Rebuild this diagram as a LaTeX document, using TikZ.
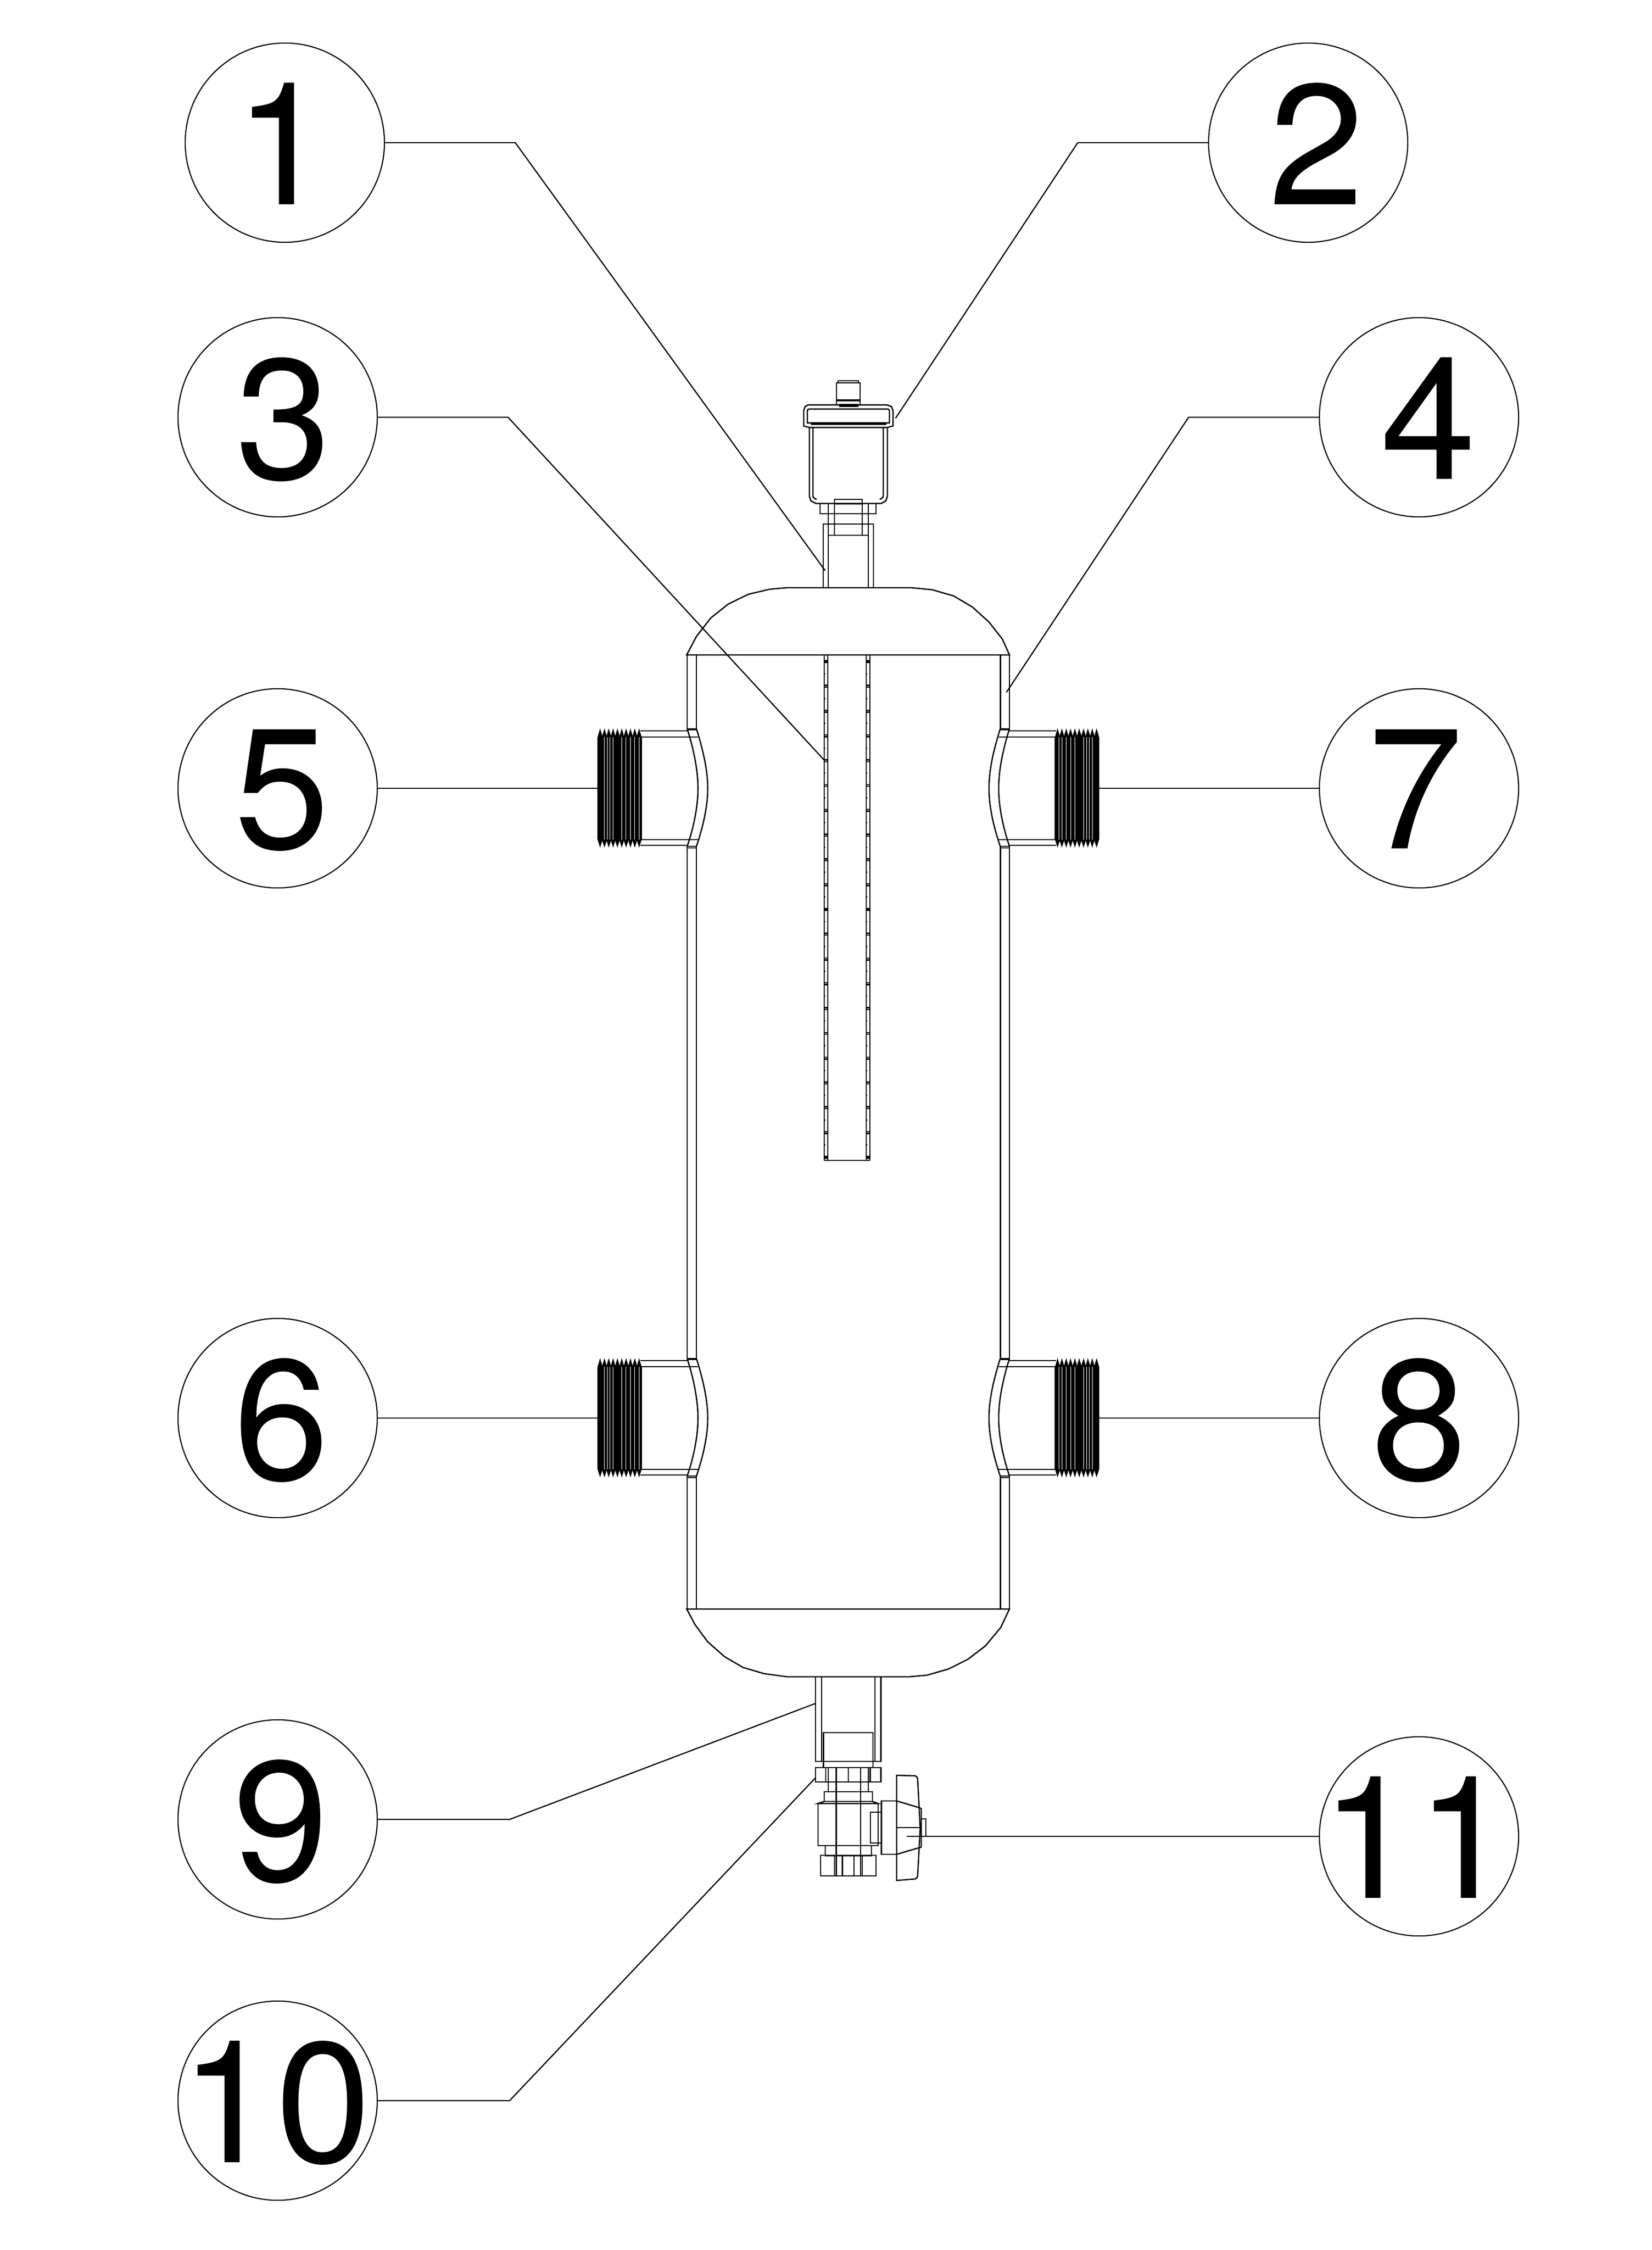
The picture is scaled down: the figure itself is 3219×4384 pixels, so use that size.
\documentclass[tikz,border=0pt]{standalone}
\usepackage{fontspec}
\setmainfont{TeX Gyre Heros}
\tikzset{
  ln/.style={line width=0.72pt,line join=miter,black},
  lead/.style={line width=0.66pt,black},
  balloon/.style={draw,circle,line width=0.62pt,minimum size=3.88cm,inner sep=0pt,outer sep=0pt,
     font=\fontsize{95}{100}\selectfont},
  threadln/.style={line width=0.6pt,black}
}
% #1 = horizontal shift of the digits in picture pixels, #2 = text
\newcommand{\numb}[2]{\makebox[0pt][c]{\kern\dimexpr #1\dimexpr 0.02cm\relax\relax\raisebox{-0.02cm}[\height][0pt]{#2}}}
\newcommand{\portshape}{%
  % thread
  \foreach \i in {0,...,9}{
    \pgfmathsetmacro{\tx}{-169.7+8.45*\i}
    \draw[threadln,fill=black] (\tx-3.8,-100) -- (\tx,-113) -- (\tx+3.8,-100);
    \draw[threadln,fill=black] (\tx-3.8,100) -- (\tx,112) -- (\tx+3.8,100);
    \draw[threadln] (\tx-3.9,-100) -- (\tx-3.9,100);
    \draw[threadln] (\tx-1.6,-100) -- (\tx-1.6,100);
    \draw[threadln] (\tx+1.2,-100) -- (\tx+1.2,100);
    \draw[threadln] (\tx+3.4,-100) -- (\tx+3.4,100);
  }
  \draw[ln] (-172,-100) -- (-172,100) (-89,-100) -- (-89,100);
  \draw[ln] (-91,-112) -- (0,-112) (-89,-100) -- (21,-100);
  \draw[ln] (-89,100) -- (21,100) (-91,111) -- (0,111);
  % shell bulge
  \draw[ln] (0,-116) .. controls (13,-75) and (21,-35) .. (21,0) .. controls (21,35) and (13,75) .. (0,113);
  \draw[ln] (18,-116) .. controls (31,-75) and (40,-35) .. (40,0) .. controls (40,35) and (31,75) .. (18,113);
  \draw[ln] (0,-116) -- (18,-116) (0,-114) -- (18,-114);
  \draw[ln] (0,113) -- (18,113) (0,116) -- (18,116);
}
\begin{document}
\begin{tikzpicture}[x=0.01cm,y=-0.01cm]
\useasboundingbox[fill=white] (0,0) rectangle (3219,4384);

% ---- balloons
\node[balloon] (c1) at (555,278) {\numb{-5}{1}};
\node[balloon] (c2) at (2549,278) {\numb{16}{2}};
\node[balloon] (c3) at (541,813) {\numb{11}{3}};
\node[balloon] (c4) at (2765,813) {\numb{18}{4}};
\node[balloon] (c5) at (541,1536) {\numb{8}{5}};
\node[balloon] (c7) at (2765,1536) {\numb{-7}{7}};
\node[balloon] (c6) at (541,2763) {\numb{7}{6}};
\node[balloon] (c8) at (2765,2763) {\numb{0}{8}};
\node[balloon] (c9) at (541,3545) {\numb{6}{9}};
\node[balloon] (c11) at (2765,3578) {\numb{-5}{11}};
\node[balloon] (c10) at (541,4093) {\numb{-4}{10}};

% ---- leader points
\coordinate (k1) at (1004,278);  \coordinate (e1) at (1608,1112);
\coordinate (k2) at (2100,278);  \coordinate (e2) at (1745,815);
\coordinate (k3) at (990,813);   \coordinate (e3) at (1606,1481);
\coordinate (k4) at (2316,813);  \coordinate (e4) at (1961,1349);
\coordinate (e5) at (1167,1536); \coordinate (e7) at (2139,1536);
\coordinate (e6) at (1167,2763); \coordinate (e8) at (2139,2763);
\coordinate (k9) at (993,3545);  \coordinate (e9) at (1589,3319);
\coordinate (k10) at (993,4093); \coordinate (e10) at (1589,3464);
\coordinate (e11) at (1767,3578);

\draw[lead] (c1.east) -- (k1) -- (e1);
\draw[lead] (c2.west) -- (k2) -- (e2);
\draw[lead] (c3.east) -- (k3) -- (e3);
\draw[lead] (c4.west) -- (k4) -- (e4);
\draw[lead] (c5.east) -- (e5);
\draw[lead] (c7.west) -- (e7);
\draw[lead] (c6.east) -- (e6);
\draw[lead] (c8.west) -- (e8);
\draw[lead] (c9.east) -- (k9) -- (e9);
\draw[lead] (c10.east) -- (k10) -- (e10);
\draw[lead] (c11.west) -- (e11);

% ---- vessel: domes
\draw[ln] (1338,1276) -- (1357,1240) -- (1385,1204) -- (1419,1177) -- (1458,1158) -- (1500,1148) -- (1534,1145)
  -- (1775,1145) -- (1816,1149) -- (1858,1161) -- (1895,1183) -- (1927,1212) -- (1953,1245) -- (1967,1276) -- cycle;
\draw[ln] (1338,3135) -- (1354,3165) -- (1379,3199) -- (1412,3228) -- (1448,3249) -- (1489,3261) -- (1533,3267)
  -- (1772,3267) -- (1806,3264) -- (1848,3252) -- (1886,3233) -- (1920,3207) -- (1950,3171) -- (1967,3135) -- cycle;

% ---- walls
\foreach \wx in {1339,1357,1949.5,1967}{
  \draw[ln] (\wx,1276) -- (\wx,1420);
  \draw[ln] (\wx,1649) -- (\wx,2647);
  \draw[ln] (\wx,2876) -- (\wx,3135);
}

% ---- threaded ports
\begin{scope}[shift={(1339,1536)}]\portshape\end{scope}
\begin{scope}[shift={(1339,2763)}]\portshape\end{scope}
\begin{scope}[shift={(1967,1536)},xscale=-1]\portshape\end{scope}
\begin{scope}[shift={(1967,2763)},xscale=-1]\portshape\end{scope}

% ---- central tube
\foreach \tubex in {1606,1613,1688,1695}{\draw[ln] (\tubex,1276) -- (\tubex,2261);}
\draw[ln] (1606,2261) -- (1695,2261);
\foreach \i in {0,...,20}{
  \pgfmathsetmacro{\ty}{1289+48.3*\i}
  \pgfmathsetmacro{\tz}{\ty+24}
  \draw[ln] (1605,\ty-1.7) -- (1614,\ty-1.7) (1605,\ty+1.7) -- (1614,\ty+1.7);
  \draw[ln] (1687,\ty-1.7) -- (1696,\ty-1.7) (1687,\ty+1.7) -- (1696,\ty+1.7);
  \ifnum\i<20
    \draw[ln] (1606,\tz) -- (1608,\tz) (1688,\tz) -- (1690,\tz);
  \fi
}

% ---- top pipe
\draw[ln] (1604,1145) -- (1604,1021) -- (1702,1021) -- (1702,1145);
\draw[ln] (1614,1145) -- (1614,981) (1692,1145) -- (1692,981);
\draw[ln] (1614,1043) -- (1692,1043);

% ---- air vent
\draw[ln] (1598,981) rectangle (1707,1001);
\draw[ln] (1626,1043) -- (1626,973) -- (1680,973) -- (1680,1043);
\draw[ln] (1626,982) -- (1680,982);
\draw[ln,fill=white] (1577,833) -- (1577,967) -- (1580,976) -- (1590,981) -- (1717,981) -- (1726,976) -- (1729,967) -- (1729,833);
\draw[ln] (1626,981) -- (1626,973) -- (1680,973) -- (1680,981);
\draw[ln] (1591,973) .. controls (1586,971) and (1584,969) .. (1584,965) -- (1584,833);
\draw[ln] (1714,973) .. controls (1719,971) and (1721,969) .. (1721,965) -- (1721,833);
\draw[ln] (1566,830) -- (1566,800) -- (1569,792) -- (1575,789) -- (1728,789) -- (1737,792) -- (1740,800) -- (1740,830) -- (1729,833) -- (1577,833) -- cycle;
\draw[ln] (1573,824) -- (1573,800) .. controls (1573,798) and (1575,797) .. (1577,797) -- (1729,797) .. controls (1731,797) and (1733,798) .. (1733,800) -- (1733,824) -- cycle;
\draw[ln] (1580,826.5) -- (1727,826.5);
\draw[ln] (1630,788) -- (1630,746) -- (1676,746) -- (1676,788);
\draw[ln] (1630,779) -- (1676,779) (1630,781) -- (1676,781);
\draw[ln] (1633,746) -- (1633,742) -- (1673,742) -- (1673,746);
\draw[ln,fill=black] (1636,788) rectangle (1672,792);

% ---- bottom pipe
\draw[ln] (1589,3267) rectangle (1716.5,3432);
\draw[ln] (1601,3267) -- (1601,3432) (1705,3267) -- (1705,3432);
\draw[ln] (1604.5,3444) -- (1604.5,3376) -- (1701,3376) -- (1701,3444);

% ---- drain valve
\draw[ln] (1589,3444) rectangle (1716.5,3472);
\foreach \vx in {1609,1614,1653,1692,1695.5}{\draw[ln] (\vx,3444) -- (\vx,3472);}
\draw[ln] (1614,3472) rectangle (1692,3491);
\draw[ln] (1606,3491) rectangle (1700,3510);
\draw[ln] (1606,3510) -- (1594,3514) -- (1711,3514) -- (1700,3510);
\draw[ln] (1594,3514) rectangle (1711,3596);
\draw[ln] (1608,3596) rectangle (1698,3616);
\draw[ln] (1599,3615) rectangle (1707,3655);
\foreach \vx in {1626,1641.5,1664,1680}{\draw[ln] (\vx,3615) -- (\vx,3655);}
\draw[ln] (1629.5,3444) -- (1629.5,3655);
\draw[ln] (1677,3444) -- (1677,3655);

% ---- handle
\draw[ln] (1696,3531) rectangle (1717.5,3591);
\draw[ln] (1717.5,3509) rectangle (1747,3613);
\draw[ln] (1747,3459) -- (1783.5,3460) .. controls (1786,3461) and (1788,3463) .. (1788,3466)
  -- (1793,3562) -- (1788,3655) .. controls (1788,3658) and (1786,3660) .. (1783.5,3661) -- (1747,3664) -- cycle;
\draw[ln] (1747,3509) -- (1791,3522) -- (1795,3524) -- (1795,3599) -- (1747,3613);
\draw[ln] (1747,3561) -- (1793,3561);
\draw[ln] (1795,3544) -- (1804,3544) -- (1804,3578) -- (1795,3578);
\end{tikzpicture}
\end{document}
